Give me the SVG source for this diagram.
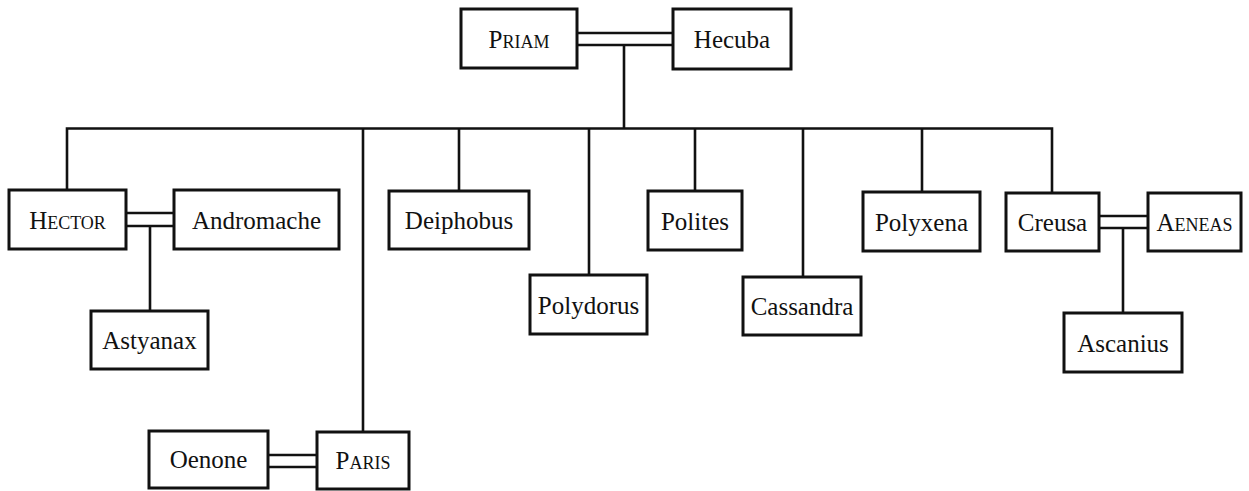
<svg xmlns="http://www.w3.org/2000/svg" width="1249" height="491" viewBox="0 0 1249 491">
<style>
.box{fill:#fff;stroke:#111;stroke-width:3}
.lbl{font-family:"Liberation Serif","DejaVu Serif",serif;font-size:25px;fill:#111;text-anchor:middle}
.sc{font-variant:small-caps}
.ln{fill:none;stroke:#111;stroke-width:2.6}
</style>
<rect width="1249" height="491" fill="#fff"/>
<g id="connectors">
<path class="ln" d="M577 33H673M577 45H673M624 45V128.5"/>
<path class="ln" d="M67 190V128.5H1052V193"/>
<path class="ln" d="M363 128.5V432M459 128.5V191M589 128.5V275M695 128.5V191M803 128.5V277M922 128.5V192"/>
<path class="ln" d="M126 213H174M126 226H174M150 226V311"/>
<path class="ln" d="M1099 216H1148M1099 228H1148M1123 228V313"/>
<path class="ln" d="M268 455H317M268 467H317"/>
</g>
<g id="priam"><rect class="box" x="461" y="9" width="116" height="59"/><text class="lbl sc" x="519" y="48">Priam</text></g>
<g id="hecuba"><rect class="box" x="673" y="9" width="118" height="60"/><text class="lbl" x="732" y="48">Hecuba</text></g>
<g id="hector"><rect class="box" x="9" y="190" width="117" height="59"/><text class="lbl sc" x="67.5" y="229">Hector</text></g>
<g id="andromache"><rect class="box" x="174" y="190" width="165" height="59"/><text class="lbl" x="256.5" y="229">Andromache</text></g>
<g id="astyanax"><rect class="box" x="91" y="311" width="117" height="58"/><text class="lbl" x="149.5" y="349">Astyanax</text></g>
<g id="deiphobus"><rect class="box" x="389" y="191" width="140" height="58"/><text class="lbl" x="459" y="229">Deiphobus</text></g>
<g id="polydorus"><rect class="box" x="530" y="275" width="117" height="59"/><text class="lbl" x="588.5" y="314">Polydorus</text></g>
<g id="polites"><rect class="box" x="648" y="191" width="94" height="59"/><text class="lbl" x="695" y="230">Polites</text></g>
<g id="cassandra"><rect class="box" x="743" y="277" width="118" height="58"/><text class="lbl" x="802" y="315">Cassandra</text></g>
<g id="polyxena"><rect class="box" x="863" y="192" width="117" height="59"/><text class="lbl" x="921.5" y="231">Polyxena</text></g>
<g id="creusa"><rect class="box" x="1006" y="193" width="93" height="58"/><text class="lbl" x="1052.5" y="231">Creusa</text></g>
<g id="aeneas"><rect class="box" x="1148" y="193" width="93" height="58"/><text class="lbl sc" x="1194.5" y="231">Aeneas</text></g>
<g id="ascanius"><rect class="box" x="1064" y="313" width="118" height="59"/><text class="lbl" x="1123" y="352">Ascanius</text></g>
<g id="oenone"><rect class="box" x="149" y="431" width="119" height="57"/><text class="lbl" x="208.5" y="468">Oenone</text></g>
<g id="paris"><rect class="box" x="317" y="432" width="92" height="57"/><text class="lbl sc" x="363" y="469">Paris</text></g>
</svg>
